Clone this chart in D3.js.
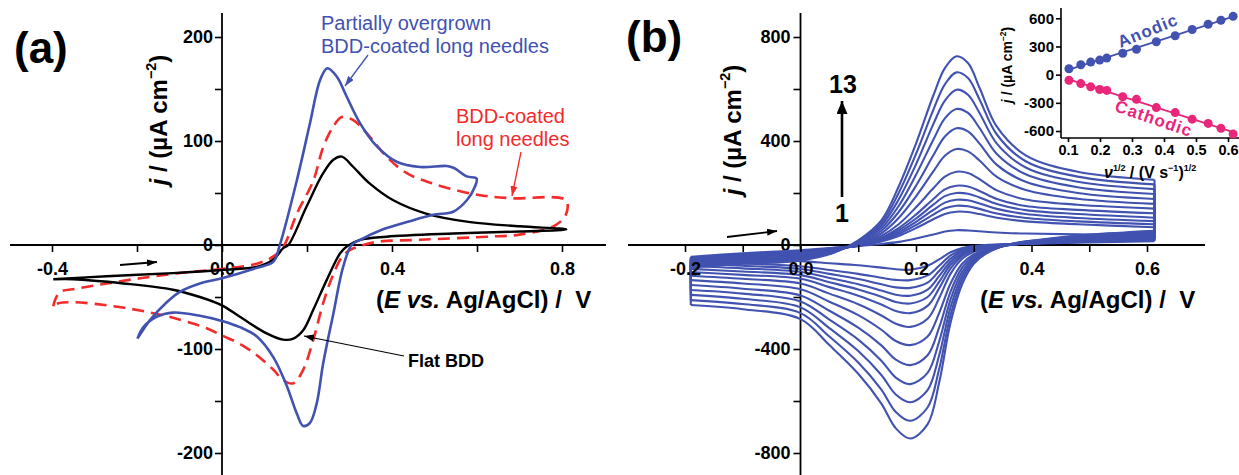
<!DOCTYPE html>
<html>
<head>
<meta charset="utf-8">
<script src="https://cdn.jsdelivr.net/npm/d3@7"></script>
<style>
  body { margin: 0; background: #fff; }
  svg { font-family: "Liberation Sans", Arial, sans-serif; }
</style>
</head>
<body>
<div id="chart"></div>
<script>
// ---------- panel (a) : three electrodes, potential E (V) and current j (uA cm-2) ----------
const blueE = [-0.199,-0.169,-0.13,-0.099,-0.052,0,0.082,0.121,0.136,0.176,0.207,0.231,0.248,0.27,0.293,0.325,0.364,0.411,0.466,0.529,0.546,0.576,0.599,
               0.595,0.576,0.544,0.497,0.435,0.372,0.325,0.305,0.285,0.262,0.238,0.223,0.207,0.191,0.176,0.152,0.121,0.082,0.042,0,-0.052,-0.115,-0.154,-0.185,-0.199];
const blueJ = [-90,-72,-55,-45,-37,-32,-22,-16,0,62,117,159,170,162,143,117,95,80,75,76,74,66,64,
               56,43,32,29,22,14,5,0,-21,-66,-114,-152,-171,-174,-162,-135,-108,-88,-79,-73,-68,-65,-69,-79,-90];

const blackE = [-0.397,-0.271,-0.115,0,0.082,0.121,0.144,0.156,0.199,0.238,0.262,0.282,0.309,0.348,0.403,0.482,0.584,0.701,0.81,
                0.701,0.544,0.387,0.325,0.295,0.278,0.246,0.215,0.191,0.168,0.144,0.105,0.042,0,-0.052,-0.115,-0.232,-0.35,-0.397];
const blackJ = [-33,-30,-27,-24,-21,-14,-3,0,37,69,82,85,75,59,43,30,22,18,15,
                13,11,8,5,-1,-8,-34,-62,-82,-90,-91,-85,-69,-58,-50,-43,-37,-33,-33];

const redE = [-0.397,-0.392,-0.38,-0.342,-0.271,-0.193,-0.099,0,0.082,0.121,0.144,0.176,0.215,0.238,0.262,0.282,0.309,0.348,0.387,0.435,0.497,0.591,0.678,0.809,
              0.809,0.78,0.70,0.623,0.466,0.364,0.325,0.305,0.285,0.262,0.238,0.215,0.191,0.168,0.144,0.121,0.082,0.042,0,-0.036,-0.115,-0.193,-0.271,-0.35,-0.385,-0.397];
const redJ = [-59,-52,-45,-42,-37,-32,-27,-23,-18,-11,-2,30,62,94,114,123,120,104,85,69,59,49,45,43,
              29,18,10,8,5,3,-1,-4,-10,-28,-56,-91,-120,-133,-130,-120,-106,-95,-87,-80,-70,-63,-58,-55,-56,-59];

// ---------- panel (b) : 13 scan rates, forward and reverse sweeps on shared potentials ----------
const fwdE = [-0.19,-0.1,0.0,0.06,0.1,0.14,0.17,0.2,0.23,0.25,0.27,0.29,0.31,0.34,0.39,0.48,0.613];
const revE = [0.613,0.5,0.42,0.36,0.32,0.3,0.28,0.26,0.24,0.22,0.19,0.165,0.14,0.1,0.05,0.0,-0.1,-0.19];

// curve 1 .. 13
const fwdJ = [
  [-45,-32,-20,-10,-4,4,12,25,40,52,57,56,53,48,44,41,38],
  [-50,-36,-24,-11,-4,14,35,65,99,119,128,127,119,105,91,80,68],
  [-52,-38,-26,-12,-4,17,42,77,117,141,151,149,139,121,104,91,80],
  [-54,-40,-28,-13,-3,20,49,89,135,163,174,172,160,139,119,104,92],
  [-56,-42,-30,-14,-2,24,57,102,155,188,200,197,183,158,134,119,105],
  [-59,-45,-33,-15,-1,28,65,117,177,214,228,225,208,177,150,135,122],
  [-62,-48,-36,-16,0,35,80,145,218,263,282,277,253,210,175,155,140],
  [-66,-52,-40,-18,2,45,104,187,283,343,369,360,325,262,212,178,158],
  [-70,-56,-44,-20,4,55,127,228,345,417,449,437,390,308,243,200,177],
  [-74,-60,-48,-22,7,65,150,270,405,487,523,508,450,350,272,222,196],
  [-78,-64,-52,-24,10,75,175,310,465,555,597,578,508,390,298,243,215],
  [-82,-68,-56,-26,14,85,200,350,520,618,664,642,560,425,322,263,233],
  [-86,-72,-60,-28,18,95,225,390,575,680,726,700,605,455,345,282,251]
];
const revJ = [
  [15,10,6,3,0,-4,-12,-28,-55,-80,-95,-93,-87,-78,-70,-62,-56,-52],
  [20,13,7,3,-1,-7,-18,-40,-80,-117,-135,-134,-126,-111,-96,-82,-71,-64],
  [22,15,8,3,-3,-10,-24,-52,-100,-145,-165,-163,-151,-131,-111,-92,-80,-72],
  [24,17,8,2,-5,-13,-30,-63,-120,-172,-195,-191,-175,-151,-127,-103,-90,-82],
  [27,19,9,2,-7,-16,-36,-75,-142,-200,-225,-219,-199,-171,-143,-116,-102,-92],
  [30,21,10,1,-9,-20,-43,-90,-167,-234,-262,-254,-229,-195,-162,-130,-115,-104],
  [34,24,11,0,-12,-26,-53,-110,-205,-284,-315,-303,-271,-228,-187,-148,-130,-118],
  [38,27,12,-1,-18,-36,-72,-147,-262,-352,-385,-369,-326,-270,-218,-170,-148,-135],
  [42,30,14,-1,-21,-43,-87,-178,-318,-424,-462,-441,-386,-318,-253,-194,-168,-154],
  [46,33,16,0,-25,-50,-102,-208,-372,-492,-535,-510,-445,-364,-287,-217,-187,-173],
  [50,36,18,1,-28,-57,-117,-238,-425,-558,-605,-575,-500,-408,-320,-240,-207,-192],
  [53,38,20,2,-31,-64,-133,-268,-478,-625,-676,-642,-556,-452,-352,-262,-227,-212],
  [55,40,22,2,-35,-72,-150,-297,-530,-690,-744,-705,-610,-495,-385,-285,-247,-231]
];

// ---------- inset : peak currents against square root of scan rate ----------
const sqrtV   = [0.103,0.140,0.171,0.199,0.221,0.271,0.314,0.376,0.435,0.488,0.538,0.578,0.616];
const anodic  = [63,105,134,155,176,228,270,350,414,481,537,579,621];
const cathodic = [-60,-95,-130,-158,-168,-235,-263,-351,-404,-474,-519,-572,-632];

const blue = "#4152b0", red = "#f22b2b", pink = "#e8267a";

const svg = d3.select("#chart").append("svg")
    .attr("width", 1239)
    .attr("height", 475);

// arrow heads
const defs = svg.append("defs");
function marker(id, color, len, wid) {
  defs.append("marker")
    .attr("id", id)
    .attr("viewBox", `0 0 ${len} ${wid}`)
    .attr("refX", len).attr("refY", wid / 2)
    .attr("markerWidth", len).attr("markerHeight", wid)
    .attr("markerUnits", "userSpaceOnUse")
    .attr("orient", "auto")
    .append("path")
    .attr("d", `M0,0 L${len},${wid / 2} L0,${wid} z`)
    .attr("fill", color);
}
marker("hk", "#000", 10, 7);
marker("hb", blue, 10, 7);
marker("hr", red, 10, 7);
marker("hbig", "#000", 13, 11);

function arrow(x1, y1, x2, y2, color, w, m) {
  svg.append("line")
    .attr("x1", x1).attr("y1", y1).attr("x2", x2).attr("y2", y2)
    .attr("stroke", color).attr("stroke-width", w)
    .attr("marker-end", `url(#${m})`);
}

function styleAxis(g, size) {
  g.select(".domain").remove();
  g.selectAll(".tick line").attr("stroke", "#000").attr("stroke-width", 1.6);
  g.selectAll(".tick text")
    .attr("fill", "#000")
    .style("font-size", size + "px")
    .style("font-weight", "bold")
    .style("font-family", "'Liberation Sans', Arial, sans-serif");
}

function xTitle(x, y) {
  const t = svg.append("text").attr("x", x).attr("y", y)
    .style("font-size", "24px").style("font-weight", "bold").style("white-space", "pre");
  t.append("tspan").text("(");
  t.append("tspan").style("font-style", "italic").text("E vs.");
  t.append("tspan").text(" Ag/AgCl) /  V");
}

function yTitle(x, y, size) {
  const t = svg.append("text")
    .attr("transform", `translate(${x},${y}) rotate(-90)`)
    .attr("text-anchor", "middle")
    .style("font-size", size + "px").style("font-weight", "bold");
  t.append("tspan").style("font-style", "italic").text("j");
  t.append("tspan").text(" / (µA cm");
  t.append("tspan").attr("dy", -size * 0.45).style("font-size", (size * 0.6) + "px").text("−2");
  t.append("tspan").attr("dy", size * 0.45).text(")");
}

// =================== panel (a) ===================
const xa = d3.scaleLinear().domain([-0.4, 0.8]).range([52, 562]);
const ya = d3.scaleLinear().domain([-200, 200]).range([453, 37]);

svg.append("line").attr("x1", 10).attr("x2", 606).attr("y1", ya(0)).attr("y2", ya(0))
  .attr("stroke", "#000").attr("stroke-width", 1.8);
svg.append("line").attr("x1", xa(0)).attr("x2", xa(0)).attr("y1", 13).attr("y2", 475)
  .attr("stroke", "#000").attr("stroke-width", 1.8);

const axA = svg.append("g").attr("transform", `translate(0,${ya(0)})`)
  .call(d3.axisBottom(xa).tickValues([-0.4, -0.2, 0, 0.2, 0.4, 0.6, 0.8])
    .tickSize(7).tickPadding(10)
    .tickFormat((d, i) => i % 2 === 0 ? d.toFixed(1) : ""));
styleAxis(axA, 18);

const ayA = svg.append("g").attr("transform", `translate(${xa(0)},0)`)
  .call(d3.axisLeft(ya).tickValues(d3.range(-200, 201, 50))
    .tickSize(7).tickPadding(2)
    .tickFormat(d => d % 100 === 0 ? d : ""));
styleAxis(ayA, 18);

const lineA = d3.line()
  .x(d => xa(d[0])).y(d => ya(d[1]))
  .curve(d3.curveCatmullRom.alpha(0.5));

svg.append("path").datum(d3.zip(redE, redJ))
  .attr("d", lineA).attr("fill", "none").attr("stroke", red)
  .attr("stroke-width", 2.6).attr("stroke-dasharray", "12,7");
svg.append("path").datum(d3.zip(blackE, blackJ))
  .attr("d", lineA).attr("fill", "none").attr("stroke", "#000").attr("stroke-width", 2.4);
svg.append("path").datum(d3.zip(blueE, blueJ))
  .attr("d", lineA).attr("fill", "none").attr("stroke", blue).attr("stroke-width", 2.6);

svg.append("text").attr("x", 14).attr("y", 63)
  .style("font-size", "44px").style("font-weight", "bold").text("(a)");

yTitle(167, 120, 24);
xTitle(376, 308);

svg.append("text").attr("x", 321).attr("y", 30).attr("fill", blue)
  .style("font-size", "20px").text("Partially overgrown");
svg.append("text").attr("x", 321).attr("y", 53).attr("fill", blue)
  .style("font-size", "20px").text("BDD-coated long needles");
arrow(368, 55, 345, 86, blue, 1.3, "hb");

svg.append("text").attr("x", 456).attr("y", 123).attr("fill", red)
  .style("font-size", "20px").text("BDD-coated");
svg.append("text").attr("x", 456).attr("y", 146).attr("fill", red)
  .style("font-size", "20px").text("long needles");
arrow(521, 152, 512, 196, red, 1.3, "hr");

svg.append("text").attr("x", 408).attr("y", 367)
  .style("font-size", "18px").style("font-weight", "bold").text("Flat BDD");
arrow(404, 356, 304, 336, "#000", 1.2, "hk");
arrow(120, 265, 157, 262, "#000", 1.8, "hk");

// =================== panel (b) ===================
const xb = d3.scaleLinear().domain([-0.2, 0.6]).range([685, 1147]);
const yb = d3.scaleLinear().domain([-800, 800]).range([453, 37]);

svg.append("line").attr("x1", 628).attr("x2", 1205).attr("y1", yb(0)).attr("y2", yb(0))
  .attr("stroke", "#000").attr("stroke-width", 1.8);
svg.append("line").attr("x1", xb(0)).attr("x2", xb(0)).attr("y1", 13).attr("y2", 475)
  .attr("stroke", "#000").attr("stroke-width", 1.8);

const ayB = svg.append("g").attr("transform", `translate(${xb(0)},0)`)
  .call(d3.axisLeft(yb).tickValues(d3.range(-800, 801, 200))
    .tickSize(7).tickPadding(3)
    .tickFormat(d => d % 400 === 0 ? d : ""));
styleAxis(ayB, 18);

const lineB = d3.line()
  .x(d => xb(d[0])).y(d => yb(d[1]))
  .curve(d3.curveCatmullRom.alpha(0.5));
const straight = d3.line().x(d => xb(d[0])).y(d => yb(d[1]));

const cvs = svg.append("g").attr("fill", "none").attr("stroke", blue).attr("stroke-width", 2.1);
fwdJ.forEach(function(fj, k) {
  const rj = revJ[k];
  const fwd = d3.zip(fwdE, fj), rev = d3.zip(revE, rj);
  cvs.append("path").datum(fwd).attr("d", lineB);
  cvs.append("path").datum(rev).attr("d", lineB);
  // vertical switching edges at both ends of the sweep
  cvs.append("path").datum([fwd[fwd.length - 1], rev[0]]).attr("d", straight);
  cvs.append("path").datum([rev[rev.length - 1], fwd[0]]).attr("d", straight);
});

// x tick labels of panel (b) sit on top of the curves
const axB = svg.append("g").attr("transform", `translate(0,${yb(0)})`)
  .call(d3.axisBottom(xb).tickValues(d3.range(-2, 7).map(v => v / 10))
    .tickSize(7).tickPadding(10)
    .tickFormat((d, i) => i % 2 === 0 ? d.toFixed(1) : ""));
styleAxis(axB, 18);

svg.append("text").attr("x", 626).attr("y", 52)
  .style("font-size", "44px").style("font-weight", "bold").text("(b)");

yTitle(741, 130, 24);
xTitle(980, 308);

svg.append("text").attr("x", 843).attr("y", 93).attr("text-anchor", "middle")
  .style("font-size", "25px").style("font-weight", "bold").text("13");
svg.append("text").attr("x", 842).attr("y", 222).attr("text-anchor", "middle")
  .style("font-size", "25px").style("font-weight", "bold").text("1");
arrow(842, 197, 842, 101, "#000", 2.6, "hbig");
arrow(727, 237, 777, 231, "#000", 1.8, "hk");

// =================== inset ===================
const xi = d3.scaleLinear().domain([0.1, 0.6]).range([1068, 1228]);
const yi = d3.scaleLinear().domain([-600, 600]).range([131, 18.3]);
const ix0 = 1061, iy0 = 138;

svg.append("line").attr("x1", ix0).attr("x2", 1239).attr("y1", iy0).attr("y2", iy0)
  .attr("stroke", "#000").attr("stroke-width", 1.6);
svg.append("line").attr("x1", ix0).attr("x2", ix0).attr("y1", 8).attr("y2", iy0)
  .attr("stroke", "#000").attr("stroke-width", 1.6);

const axI = svg.append("g").attr("transform", `translate(0,${iy0})`)
  .call(d3.axisBottom(xi).tickValues([0.1, 0.2, 0.3, 0.4, 0.5, 0.6])
    .tickSize(4).tickPadding(3).tickFormat(d => d.toFixed(1)));
styleAxis(axI, 14.5);

const ayI = svg.append("g").attr("transform", `translate(${ix0},0)`)
  .call(d3.axisLeft(yi).tickValues([-600, -300, 0, 300, 600])
    .tickSize(5).tickPadding(2).tickFormat(d => d));
styleAxis(ayI, 15);

function fit(xs, ys) {
  const mx = d3.mean(xs), my = d3.mean(ys);
  const b = d3.sum(xs, (x, i) => (x - mx) * (ys[i] - my)) / d3.sum(xs, x => (x - mx) * (x - mx));
  return [[xs[0], my + b * (xs[0] - mx)], [xs[xs.length - 1], my + b * (xs[xs.length - 1] - mx)]];
}
const lineI = d3.line().x(d => xi(d[0])).y(d => yi(d[1]));

[[anodic, blue], [cathodic, pink]].forEach(function([vals, col]) {
  svg.append("path").datum(fit(sqrtV, vals)).attr("d", lineI)
    .attr("stroke", col).attr("stroke-width", 1.8).attr("fill", "none");
  svg.append("g").selectAll("circle")
    .data(d3.zip(sqrtV, vals))
    .enter().append("circle")
    .attr("cx", d => xi(d[0])).attr("cy", d => yi(d[1]))
    .attr("r", 4.5).attr("fill", col);
});

svg.append("text").attr("transform", "translate(1150,36) rotate(-22)")
  .attr("text-anchor", "middle").attr("fill", blue)
  .style("font-size", "17px").style("font-weight", "bold").style("letter-spacing", "1px").text("Anodic");
svg.append("text").attr("transform", "translate(1152,124) rotate(19)")
  .attr("text-anchor", "middle").attr("fill", pink)
  .style("font-size", "17px").style("font-weight", "bold").style("letter-spacing", "1px").text("Cathodic");

yTitle(1012, 65, 14);

const it = svg.append("text").attr("x", 1104).attr("y", 178)
  .style("font-size", "16px").style("font-weight", "bold").style("white-space", "pre");
it.append("tspan").style("font-style", "italic").text("ν");
it.append("tspan").attr("dy", -7).style("font-size", "9px").text("1/2");
it.append("tspan").attr("dy", 7).text(" / (V s");
it.append("tspan").attr("dy", -7).style("font-size", "9px").text("−1");
it.append("tspan").attr("dy", 7).text(")");
it.append("tspan").attr("dy", -7).style("font-size", "9px").text("1/2");
</script>
</body>
</html>
